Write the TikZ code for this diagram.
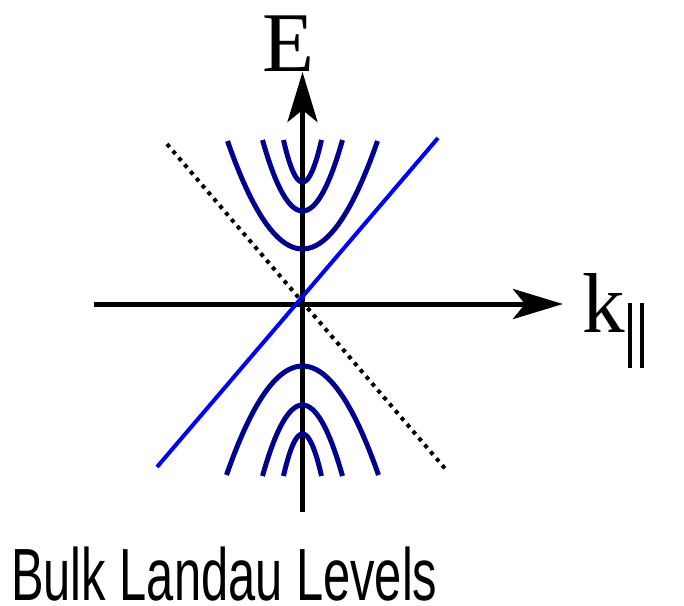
\documentclass[tikz,border=0pt]{standalone}
\usepackage{fontspec}
\setmainfont{Liberation Serif}
\newfontfamily\captionfont[FakeStretch=0.66]{Liberation Sans}
\usepackage{tikz}
\usetikzlibrary{arrows.meta, positioning}
\definecolor{level}{RGB}{0, 0, 140}
\definecolor{surface}{RGB}{0, 0, 250}

\begin{document}
\begin{tikzpicture}[
    x=1pt, y=-1pt,
    axis/.style={draw=black, line width=5pt, -{Stealth[length=50pt, width=30pt, inset=12pt]}},
    llevel/.style={draw=level, line width=5pt},
    cone/.style={draw=surface, line width=4pt},
    dotline/.style={draw=black, line width=4pt, dash pattern=on 4pt off 5pt},
    axislabel/.style={font=\fontsize{85}{85}\selectfont, inner sep=0pt},
    caption/.style={font=\captionfont\fontsize{74}{74}\selectfont, inner sep=0pt}
]
    \useasboundingbox (0,0) rectangle (684,605);

    % Coordinates
    \coordinate (origin) at (302.5,304);
    \coordinate (xstart) at (94,304);
    \coordinate (xend) at (563,304);
    \coordinate (ystart) at (302.5,512);
    \coordinate (yend) at (302.5,72);
    \coordinate (dotstart) at (167,144);
    \coordinate (dotend) at (448,472);
    \coordinate (conestart) at (157,467);
    \coordinate (coneend) at (438,138);

    % Axes
    \draw [axis] (xstart) -- (xend);
    \draw [axis] (ystart) -- (yend);
    \draw [dotline] (dotstart) -- (dotend);

    % Landau levels
    \foreach \hw/\dep/\vtx in {75/108/249, 40/71/211, 19/42/182}
        \draw [llevel] plot[domain=-\hw:\hw, samples=40] ({302.5+\x},{\vtx-\dep*(\x/\hw)^2});
    \foreach \hw/\dep/\vtx in {76/109/366, 40/71/405, 19/42/434}
        \draw [llevel] plot[domain=-\hw:\hw, samples=40] ({302.5+\x},{\vtx+\dep*(\x/\hw)^2});

    % Surface state
    \draw [cone] (conestart) -- (coneend);

    % Labels
    \node [axislabel, anchor=base] (elabel) at (288,71) {E};
    \node [axislabel, anchor=base west] (klabel) at (582,332) {k\hspace{3pt}\rule[-36pt]{4.5pt}{65pt}\hspace{7.5pt}\rule[-36pt]{4.5pt}{65pt}};
    \node [caption, anchor=base west] (caption) at (11,600) {Bulk Landau Levels};

\end{tikzpicture}
\end{document}
